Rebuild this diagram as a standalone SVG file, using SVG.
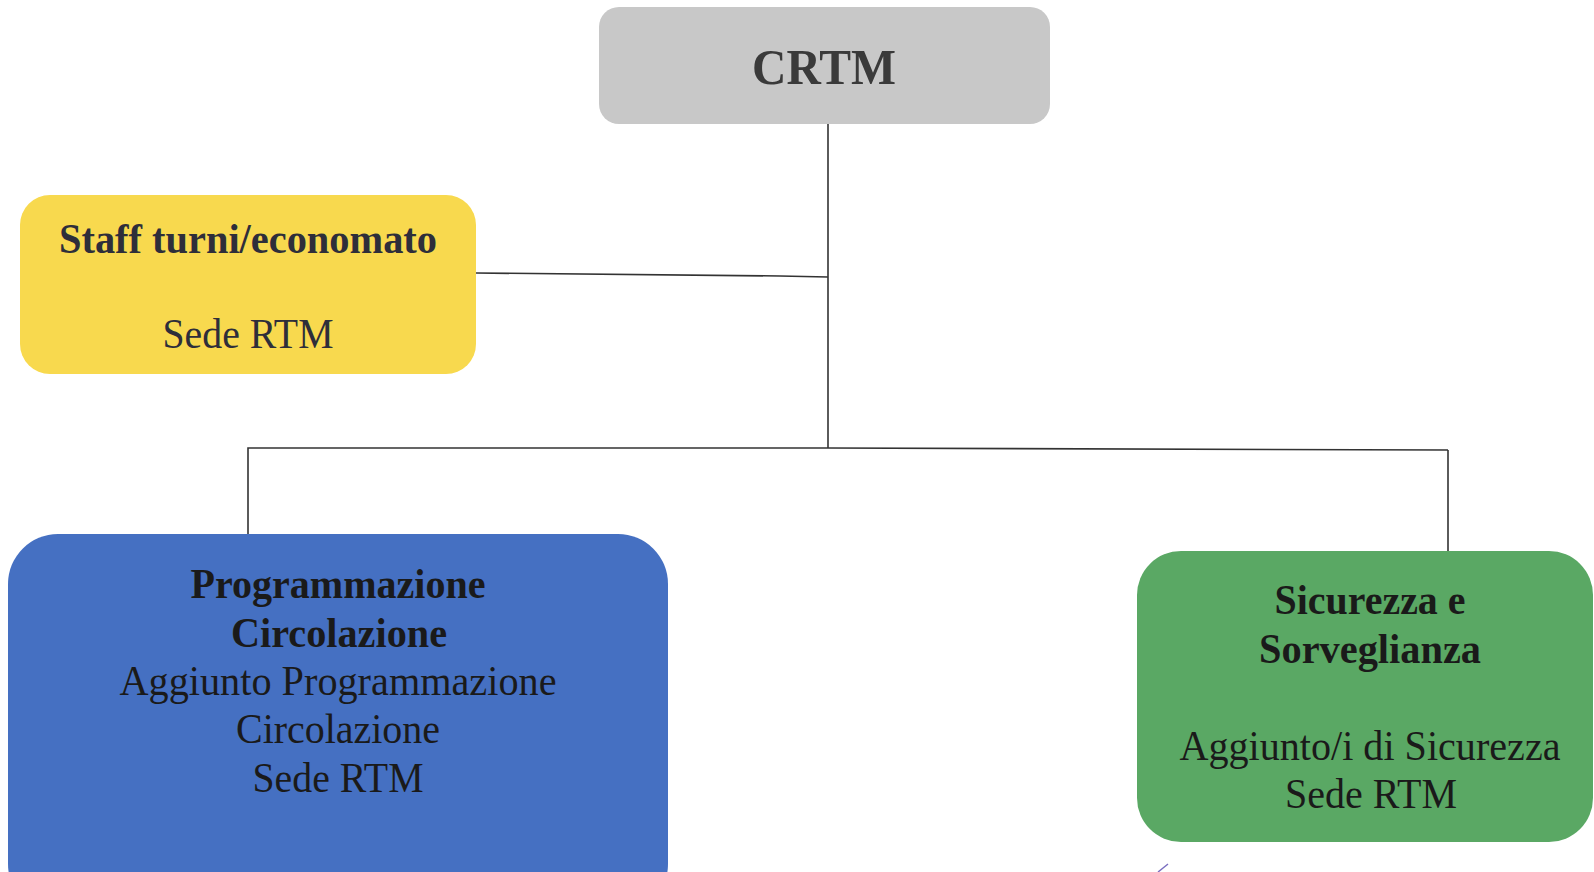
<svg xmlns="http://www.w3.org/2000/svg" width="1594" height="872" viewBox="0 0 1594 872">
<style>
.t{font-family:"Liberation Serif","Times New Roman",serif;text-anchor:middle;fill:#1a1a1a}
.b{font-weight:bold}
.c{stroke:#333;stroke-width:1.6;fill:none}
</style>
<rect width="1594" height="872" fill="#ffffff"/>
<g id="connectors">
<line class="c" x1="828" y1="124" x2="828" y2="448"/>
<polyline class="c" points="476,273 780,276 828,277"/>
<polyline class="c" points="248,534 248,448 828,448 1448,450"/>
<line class="c" x1="1448" y1="450" x2="1448" y2="551"/>
</g>
<g id="crtm">
<rect x="599" y="7" width="451" height="117" rx="20" fill="#c8c8c8"/>
<text class="t b" x="824" y="84" font-size="50" style="fill:#3a3a3a" textLength="144" lengthAdjust="spacingAndGlyphs">CRTM</text>
</g>
<g id="staff">
<rect x="20" y="195" width="456" height="179" rx="30" fill="#f8d94e"/>
<text class="t b" x="248" y="253" font-size="42" style="fill:#2e2e3a" textLength="378" lengthAdjust="spacingAndGlyphs">Staff turni/economato</text>
<text class="t" x="248" y="348" font-size="42" style="fill:#2e2e3a" textLength="171" lengthAdjust="spacingAndGlyphs">Sede RTM</text>
</g>
<g id="programmazione">
<rect x="8" y="534" width="660" height="380" rx="50" fill="#4570c2"/>
<text class="t b" x="338" y="598" font-size="42" textLength="295" lengthAdjust="spacingAndGlyphs">Programmazione</text>
<text class="t b" x="339" y="647" font-size="42" textLength="216" lengthAdjust="spacingAndGlyphs">Circolazione</text>
<text class="t" x="338" y="695" font-size="42" textLength="437" lengthAdjust="spacingAndGlyphs">Aggiunto Programmazione</text>
<text class="t" x="338" y="743" font-size="42" textLength="204" lengthAdjust="spacingAndGlyphs">Circolazione</text>
<text class="t" x="338" y="792" font-size="42" textLength="171" lengthAdjust="spacingAndGlyphs">Sede RTM</text>
</g>
<g id="sicurezza">
<rect x="1137" y="551" width="456" height="291" rx="44" fill="#5aa864"/>
<text class="t b" x="1370" y="614" font-size="42" textLength="191" lengthAdjust="spacingAndGlyphs">Sicurezza e</text>
<text class="t b" x="1370" y="663" font-size="42" textLength="222" lengthAdjust="spacingAndGlyphs">Sorveglianza</text>
<text class="t" x="1370" y="760" font-size="42" textLength="381" lengthAdjust="spacingAndGlyphs">Aggiunto/i di Sicurezza</text>
<text class="t" x="1371" y="808" font-size="42" textLength="172" lengthAdjust="spacingAndGlyphs">Sede RTM</text>
</g>
<path d="M1158,872 L1168,864" stroke="#7a6fc0" stroke-width="1.5" fill="none"/>
</svg>
